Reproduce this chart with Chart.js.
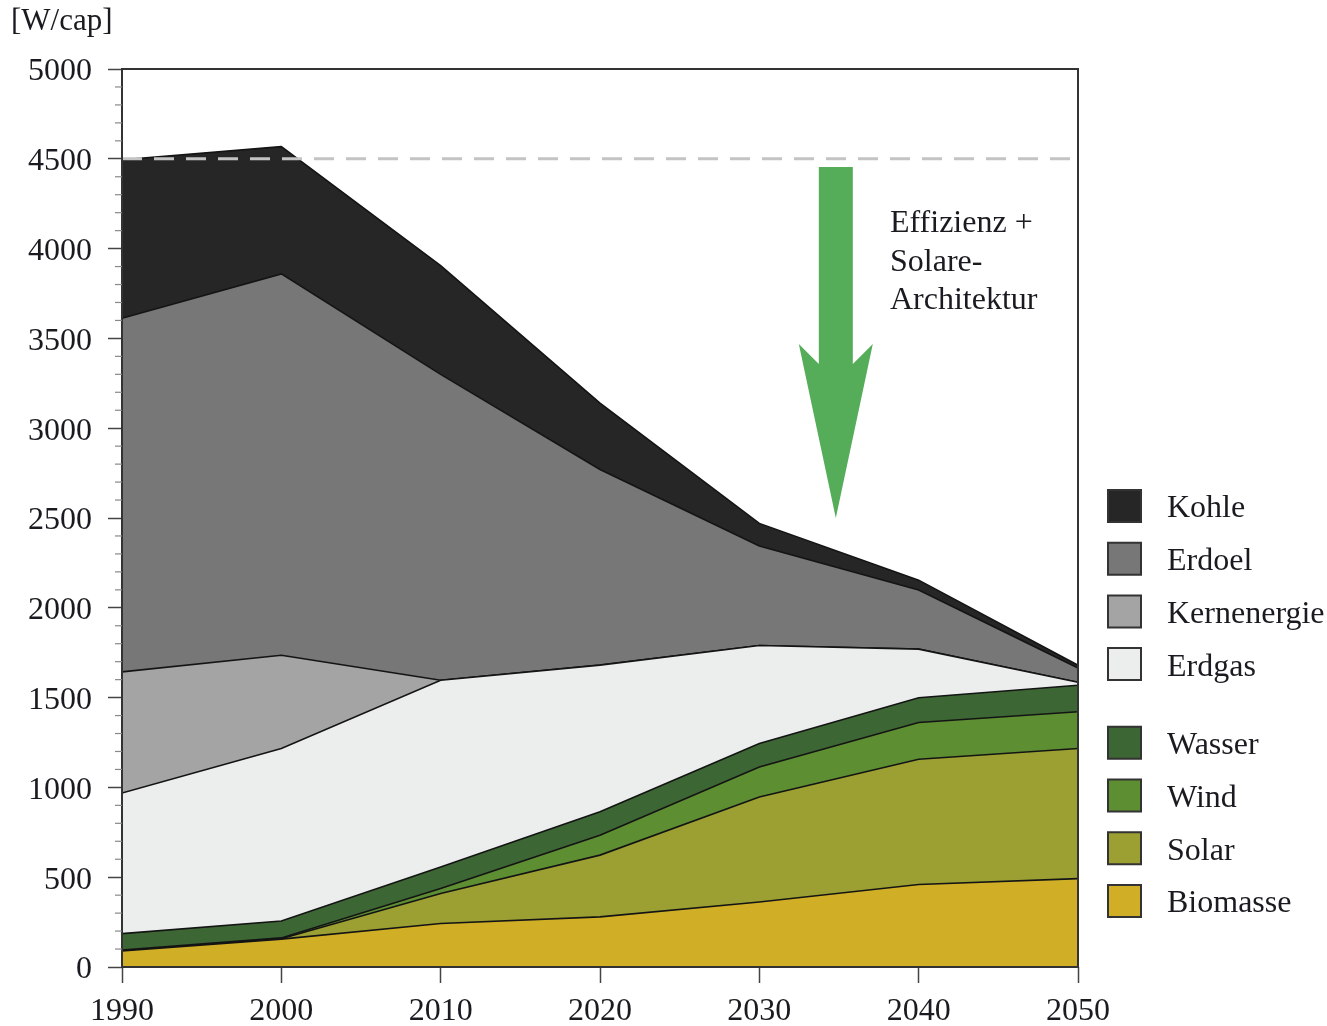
<!doctype html>
<html lang="de">
<head>
<meta charset="utf-8">
<title>W/cap</title>
<script src="https://cdn.jsdelivr.net/npm/chart.js"></script>
<style>
  body { margin:0; background:#fff; }
  #wrap { width:1327px; height:1026px; }
</style>
</head>
<body>
<div id="wrap"><canvas id="areaChart" width="1327" height="1026"></canvas></div>
<script>
// values per layer (W/cap)
var years       = [1990, 2000, 2010, 2020, 2030, 2040, 2050];
var biomasse    = [89, 155, 242, 279, 362, 459, 492];
var solar       = [0, 2, 167, 344, 585, 698, 725];
var wind        = [5, 5, 28, 111, 167, 204, 204];
var wasser      = [92, 94, 120, 130, 131, 138, 148];
var erdgas      = [783, 961, 1040, 817, 545, 271, 16];
var kernenergie = [674, 519, 0, 0, 0, 0, 0];
var erdoel      = [1969, 2123, 1703, 1089, 554, 329, 80];
var kohle       = [883, 709, 605, 370, 126, 55, 15];

var yTicks = [0, 500, 1000, 1500, 2000, 2500, 3000, 3500, 4000, 4500, 5000];
var xTicks = [1990, 2000, 2010, 2020, 2030, 2040, 2050];
var referenceLevel = 4500;
var unitLabel = "[W/cap]";
var noteLines = ["Effizienz +", "Solare-", "Architektur"];

// bottom to top
var layers = [
  {label:"Biomasse",    data:biomasse,    color:"#d0af27"},
  {label:"Solar",       data:solar,       color:"#9ca032"},
  {label:"Wind",        data:wind,        color:"#5e8e32"},
  {label:"Wasser",      data:wasser,      color:"#3c6633"},
  {label:"Erdgas",      data:erdgas,      color:"#eceeed"},
  {label:"Kernenergie", data:kernenergie, color:"#a3a4a3"},
  {label:"Erdoel",      data:erdoel,      color:"#767776"},
  {label:"Kohle",       data:kohle,       color:"#262626"}
];

var FONT = "'Liberation Serif', 'DejaVu Serif', serif";
var TXT = "#1a1a20";

var datasets = layers.map(function(l, i){
  return {
    label: l.label,
    data: years.map(function(y, k){ return {x:y, y:l.data[k]}; }),
    backgroundColor: l.color,
    borderColor: "#141414",
    borderWidth: 1.6,
    fill: i === 0 ? "origin" : "-1",
    pointRadius: 0,
    tension: 0
  };
});

var extras = {
  id: "extras",
  afterDatasetsDraw: function(chart){
    var ctx = chart.ctx, a = chart.chartArea;
    var xs = chart.scales.x, ys = chart.scales.y;

    // dashed 4500 line
    var yr = ys.getPixelForValue(referenceLevel);
    ctx.save();
    ctx.strokeStyle = "#c4c4c4";
    ctx.lineWidth = 3;
    ctx.setLineDash([20, 12]);
    ctx.beginPath();
    ctx.moveTo(a.left, yr);
    ctx.lineTo(a.right, yr);
    ctx.stroke();
    ctx.restore();

    // green arrow
    var cx = xs.getPixelForValue(2034.8);
    var top = ys.getPixelForValue(4455);
    var tip = ys.getPixelForValue(2500);
    ctx.save();
    ctx.fillStyle = "#55ad5a";
    ctx.beginPath();
    ctx.moveTo(cx - 17, top);
    ctx.lineTo(cx + 17, top);
    ctx.lineTo(cx + 17, tip - 154);
    ctx.lineTo(cx + 37, tip - 174);
    ctx.lineTo(cx, tip);
    ctx.lineTo(cx - 37, tip - 174);
    ctx.lineTo(cx - 17, tip - 154);
    ctx.closePath();
    ctx.fill();
    ctx.restore();

    // note text
    ctx.save();
    ctx.fillStyle = TXT;
    ctx.font = "32px " + FONT;
    ctx.textBaseline = "middle";
    var nx = xs.getPixelForValue(2038.2);
    noteLines.forEach(function(t, i){
      ctx.fillText(t, nx, 224 + i * 38.5);
    });
    ctx.restore();
  },
  afterDraw: function(chart){
    var ctx = chart.ctx, a = chart.chartArea, ys = chart.scales.y;
    ctx.save();
    // frame
    ctx.strokeStyle = "#333";
    ctx.lineWidth = 2;
    ctx.strokeRect(a.left, a.top, a.right - a.left, a.bottom - a.top);
    // minor ticks every 100
    ctx.strokeStyle = "#888";
    ctx.lineWidth = 1.2;
    for (var v = 100; v < 5000; v += 100) {
      if (v % 500 === 0) continue;
      var py = ys.getPixelForValue(v);
      ctx.beginPath();
      ctx.moveTo(a.left - 7, py);
      ctx.lineTo(a.left, py);
      ctx.stroke();
    }
    // unit label
    ctx.fillStyle = TXT;
    ctx.font = "31px " + FONT;
    ctx.textBaseline = "middle";
    ctx.fillText(unitLabel, 11, 22);

    // legend, top to bottom, gap after Erdgas
    var order = layers.slice().reverse();
    var ly = 506;
    order.forEach(function(l, i){
      if (l.label === "Wasser") ly += 26;
      ctx.fillStyle = l.color;
      ctx.strokeStyle = "#333";
      ctx.lineWidth = 2;
      ctx.beginPath();
      ctx.rect(1108, ly - 16, 33, 32);
      ctx.fill();
      ctx.stroke();
      ctx.fillStyle = TXT;
      ctx.font = "32px " + FONT;
      ctx.fillText(l.label, 1167, ly + 3);
      ly += 52.7;
    });
    ctx.restore();
  }
};

var CHART = document.getElementById("areaChart");
var areaChart = new Chart(CHART, {
  type: "line",
  data: { datasets: datasets },
  options: {
    responsive: false,
    animation: false,
    layout: { padding: { top: 69, right: 249, left: 0, bottom: 0 } },
    plugins: { legend: { display: false }, tooltip: { enabled: false } },
    scales: {
      x: {
        type: "linear",
        min: 1990, max: 2050,
        afterBuildTicks: function(s){ s.ticks = xTicks.map(function(v){ return {value:v}; }); },
        afterFit: function(s){ s.height = 59; },
        border: { display: false },
        grid: { drawOnChartArea: false, tickLength: 16, tickColor: "#444", tickWidth: 1.5 },
        ticks: { color: TXT, font: { family: FONT, size: 32 }, padding: 9,
                 callback: function(v){ return String(v); } }
      },
      y: {
        stacked: true,
        min: 0, max: 5000,
        afterBuildTicks: function(s){ s.ticks = yTicks.map(function(v){ return {value:v}; }); },
        afterFit: function(s){ s.width = 122; },
        border: { display: false },
        grid: { drawOnChartArea: false, tickLength: 14, tickColor: "#444", tickWidth: 1.5 },
        ticks: { color: TXT, font: { family: FONT, size: 32 }, padding: 16, labelOffset: 3,
                 callback: function(v){ return String(v); } }
      }
    }
  },
  plugins: [extras]
});
</script>
</body>
</html>
